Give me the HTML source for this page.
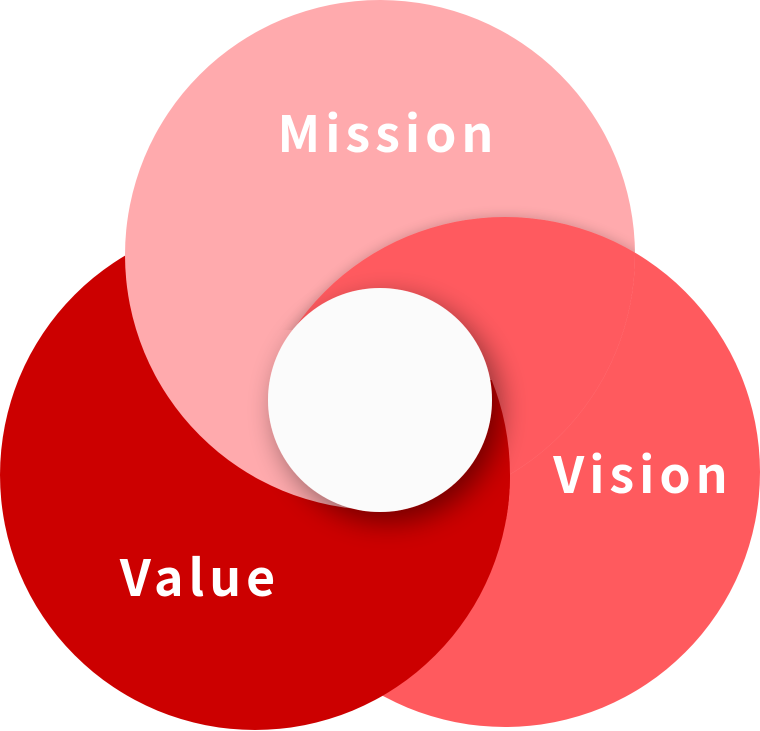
<!DOCTYPE html>
<html><head><meta charset="utf-8"><style>
html,body{margin:0;padding:0;background:#fff;width:760px;height:731px;overflow:hidden}
svg{display:block}
text{font-family:"Noto Sans CJK JP","Liberation Sans",sans-serif;font-weight:bold;fill:#fff;letter-spacing:5px}
</style></head><body>
<svg width="760" height="731" viewBox="0 0 760 731">
<defs>
<clipPath id="low"><rect x="0" y="330" width="385" height="470"/></clipPath>
<clipPath id="rgt"><rect x="385" y="380" width="160" height="140"/></clipPath>
<mask id="mm" maskUnits="userSpaceOnUse" x="0" y="0" width="760" height="731">
<circle cx="380" cy="255" r="255" fill="#fff"/>
<circle cx="255" cy="475" r="255" fill="#000" clip-path="url(#low)"/>
</mask>
<filter id="sh" x="-50%" y="-50%" width="200%" height="200%">
<feGaussianBlur in="SourceAlpha" stdDeviation="14"/>
<feOffset dx="8" dy="10"/>
<feComponentTransfer><feFuncA type="linear" slope="0.45"/></feComponentTransfer>
<feMerge><feMergeNode/><feMergeNode in="SourceGraphic"/></feMerge>
</filter>
<filter id="sh2" x="-20%" y="-20%" width="140%" height="140%">
<feGaussianBlur in="SourceAlpha" stdDeviation="6"/>
<feComponentTransfer><feFuncA type="linear" slope="0.2"/></feComponentTransfer>
<feMerge><feMergeNode/><feMergeNode in="SourceGraphic"/></feMerge>
</filter>
</defs>
<circle cx="505" cy="472" r="255" fill="#FF5A5E"/>
<circle cx="255" cy="475" r="255" fill="#CC0000"/>
<circle cx="380" cy="255" r="255" fill="#FFAAAD"/>
<g mask="url(#mm)"><circle cx="505" cy="472" r="255" fill="#FF5A5E" filter="url(#sh2)"/></g>
<circle cx="255" cy="475" r="255" fill="#CC0000" clip-path="url(#rgt)"/>
<circle cx="380" cy="400" r="112" fill="#FBFBFB" filter="url(#sh)"/>
<text x="388" y="152" font-size="50" text-anchor="middle">Mission</text>
<text x="643" y="493" font-size="50" text-anchor="middle">Vision</text>
<text x="200" y="596" font-size="50" text-anchor="middle">Value</text>
</svg>
</body></html>
